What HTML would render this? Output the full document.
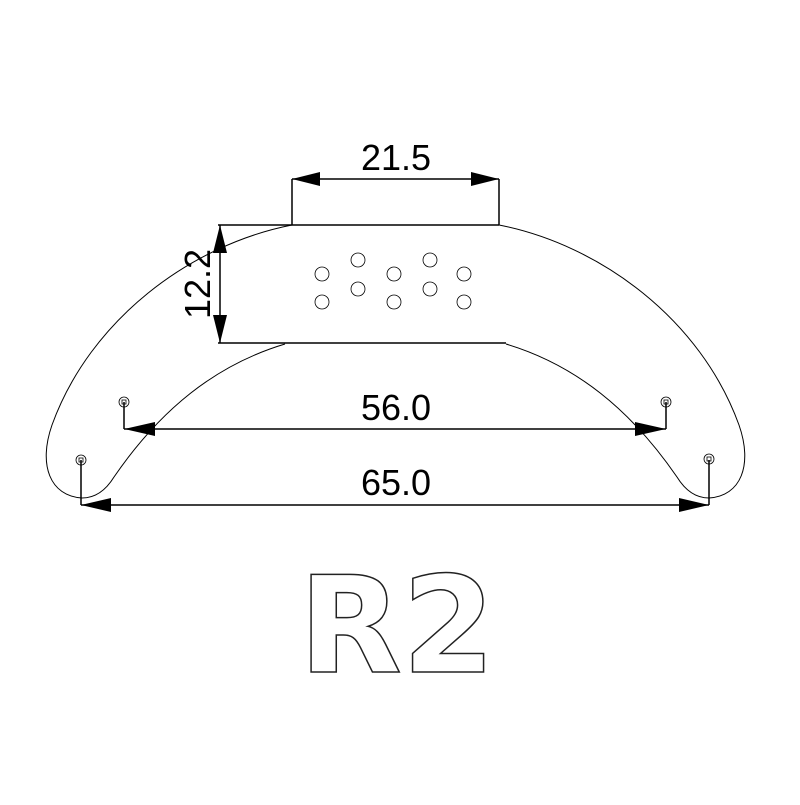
<!DOCTYPE html>
<html><head><style>body{margin:0;background:#fff}</style></head><body>
<svg width="800" height="800" viewBox="0 0 800 800" xmlns="http://www.w3.org/2000/svg">
<defs>
<g id="half" fill="none" stroke="#000">
<path d="M292,225 C190,245 90,320 52,425 C38,465 50,496 82,498 C96,498 106,490 114,477 C160,410 215,365 285,344" stroke-width="1"/>
</g>
</defs>
<rect width="800" height="800" fill="#fff"/>
<use href="#half"/>
<use href="#half" transform="translate(791,0) scale(-1,1)"/>
<g fill="none" stroke="#000" stroke-width="1.5">
<line x1="292" y1="225" x2="499" y2="225"/>
<line x1="218" y1="225" x2="292" y2="225"/>
<line x1="218" y1="343" x2="506" y2="343"/>
<line x1="292" y1="225" x2="292" y2="179"/>
<line x1="499" y1="225" x2="499" y2="179"/>
<line x1="292" y1="179" x2="499" y2="179"/>
<line x1="220" y1="225" x2="220" y2="343"/>
<line x1="124" y1="402" x2="124" y2="429"/>
<line x1="666" y1="402" x2="666" y2="429"/>
<line x1="124" y1="429" x2="666" y2="429"/>
<line x1="81" y1="460" x2="81" y2="505"/>
<line x1="709" y1="460" x2="709" y2="505"/>
<line x1="81" y1="505" x2="709" y2="505"/>
</g>
<g fill="#000">
<polygon points="292,179 320,172 320,186"/>
<polygon points="499,179 471,172 471,186"/>
<polygon points="220,225 213,253 227,253"/>
<polygon points="220,343 213,315 227,315"/>
<polygon points="124,429 155,422 155,436"/>
<polygon points="666,429 635,422 635,436"/>
<polygon points="81,505 111,498 111,512"/>
<polygon points="709,505 679,498 679,512"/>
</g>
<g fill="none" stroke="#000" stroke-width="0.8">
<circle cx="124" cy="402" r="5"/><rect x="122" y="400" width="4" height="4"/>
<circle cx="666" cy="402" r="5"/><rect x="664" y="400" width="4" height="4"/>
<circle cx="81" cy="460" r="5"/><rect x="79" y="458" width="4" height="4"/>
<circle cx="709" cy="459" r="5"/><rect x="707" y="457" width="4" height="4"/>
<circle cx="358" cy="260" r="7"/><circle cx="430" cy="260" r="7"/>
<circle cx="322" cy="274" r="7"/><circle cx="394" cy="274" r="7"/><circle cx="464" cy="274" r="7"/>
<circle cx="358" cy="289" r="7"/><circle cx="430" cy="289" r="7"/>
<circle cx="322" cy="302" r="7"/><circle cx="394" cy="302" r="7"/><circle cx="464" cy="302" r="7"/>
</g>
<g font-family="Liberation Sans, sans-serif" font-size="36" fill="#000" text-anchor="middle">
<text x="396" y="170">21.5</text>
<text x="396" y="420">56.0</text>
<text x="396" y="495">65.0</text>
<text transform="translate(210,284) rotate(-90)">12.2</text>
</g>
<text x="397" y="672" font-family="DejaVu Sans, sans-serif" font-weight="bold" font-size="134" text-anchor="middle" fill="#fff" stroke="#222" stroke-width="1.5">R2</text>
</svg>
</body></html>
